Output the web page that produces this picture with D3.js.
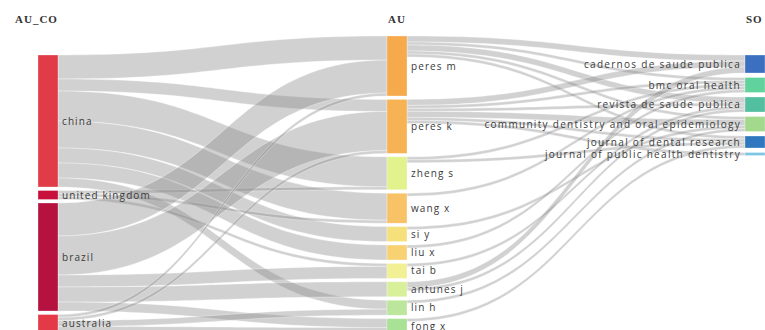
<!DOCTYPE html>
<html><head><meta charset="utf-8">
<script src="https://cdn.jsdelivr.net/npm/d3@7/dist/d3.min.js"></script>
<style>
html,body{margin:0;padding:0;background:#fff;}
svg{display:block;}
</style></head>
<body>
<svg id="chart" width="765" height="330"></svg>
<script>
// ---- data ----
const columns = ["AU_CO", "AU", "SO"];
const countries = ["china", "united kingdom", "brazil", "australia"];
const authors = ["peres m", "peres k", "zheng s", "wang x", "si y", "liu x", "tai b", "antunes j", "lin h", "fong x"];
const sources = ["cadernos de saude publica", "bmc oral health", "revista de saude publica",
  "community dentistry and oral epidemiology", "journal of dental research", "journal of public health dentistry"];
// country -> author flows
const countryAuthorLinks = [
  ["china", "peres m", 8], ["china", "peres k", 4], ["china", "zheng s", 10], ["china", "wang x", 9],
  ["china", "si y", 5], ["china", "liu x", 5], ["china", "lin h", 3],
  ["united kingdom", "zheng s", 1], ["united kingdom", "wang x", 1], ["united kingdom", "tai b", 1],
  ["brazil", "peres m", 11], ["brazil", "peres k", 13], ["brazil", "tai b", 4], ["brazil", "antunes j", 5], ["brazil", "fong x", 3],
  ["australia", "peres m", 1], ["australia", "peres k", 1], ["australia", "lin h", 2], ["australia", "fong x", 2]
];
// author -> source flows
const authorSourceLinks = [
  ["peres m", "cadernos de saude publica", 2], ["peres m", "bmc oral health", 1], ["peres m", "revista de saude publica", 2],
  ["peres m", "community dentistry and oral epidemiology", 1], ["peres m", "journal of dental research", 1],
  ["peres k", "cadernos de saude publica", 2], ["peres k", "bmc oral health", 1], ["peres k", "revista de saude publica", 1],
  ["peres k", "community dentistry and oral epidemiology", 2], ["peres k", "journal of dental research", 1],
  ["peres k", "journal of public health dentistry", 1],
  ["zheng s", "bmc oral health", 1], ["zheng s", "journal of dental research", 1],
  ["wang x", "bmc oral health", 1],
  ["si y", "community dentistry and oral epidemiology", 1],
  ["liu x", "bmc oral health", 1],
  ["tai b", "revista de saude publica", 1],
  ["antunes j", "cadernos de saude publica", 2], ["antunes j", "revista de saude publica", 1],
  ["lin h", "community dentistry and oral epidemiology", 1],
  ["fong x", "journal of dental research", 1]
];

// ---- styles ----
const countryColors = ["#e03c48", "#c8103c", "#b5123f", "#e43a48"];
const authorColors = ["#f6aa4c", "#f7b253", "#e2f28c", "#f8c266", "#f6e07c", "#f8d272", "#f1f094", "#d8f09a", "#bce69c", "#a9e196"];
const sourceColors = ["#3b6fc0", "#5fd39b", "#52bfa0", "#a2d98c", "#2f78c0", "#7fc5e6"];

const svg = d3.select("#chart");
const colX = d3.scaleLinear().domain([0, 1, 2]).range([38, 387, 745]);
const colTop = [55, 36, 55];
const colPad = [3.5, 3.4, 4.5];
const nodeW = 20;
const vScale = d3.scaleLinear().domain([0, 1]).range([0, 3]);

const groups = [countries, authors, sources];
const groupColors = [countryColors, authorColors, sourceColors];
const nodes = new Map();
groups.forEach((g, ci) => g.forEach((name, i) => {
  nodes.set(ci + ":" + name, {name, col: ci, idx: i, color: groupColors[ci][i], inV: 0, outV: 0, ins: [], outs: []});
}));
const links = [];
countryAuthorLinks.forEach(([s, t, v]) => links.push({s: nodes.get("0:" + s), t: nodes.get("1:" + t), v}));
authorSourceLinks.forEach(([s, t, v]) => links.push({s: nodes.get("1:" + s), t: nodes.get("2:" + t), v}));
links.forEach(l => { l.s.outV += l.v; l.t.inV += l.v; l.s.outs.push(l); l.t.ins.push(l); });

groups.forEach((g, ci) => {
  let y = colTop[ci];
  g.forEach(name => {
    const n = nodes.get(ci + ":" + name);
    n.value = Math.max(n.inV, n.outV);
    n.x0 = colX(ci); n.x1 = n.x0 + nodeW;
    n.y0 = y; n.y1 = y + vScale(n.value);
    y = n.y1 + colPad[ci];
  });
});
nodes.forEach(n => {
  n.outs.sort((a, b) => a.t.idx - b.t.idx);
  n.ins.sort((a, b) => a.s.idx - b.s.idx);
  let y = n.y0;
  n.outs.forEach(l => { l.sy = y; y += vScale(l.v); });
  y = n.y0;
  n.ins.forEach(l => { l.ty = y; y += vScale(l.v); });
});

function linkPath(l) {
  const x0 = l.s.x1, x1 = l.t.x0, w = vScale(l.v), xm = (x0 + x1) / 2;
  const p = d3.path();
  p.moveTo(x0, l.sy);
  p.bezierCurveTo(xm, l.sy, xm, l.ty, x1, l.ty);
  p.lineTo(x1, l.ty + w);
  p.bezierCurveTo(xm, l.ty + w, xm, l.sy + w, x0, l.sy + w);
  p.closePath();
  return p.toString();
}

svg.append("g").selectAll("path").data(links).join("path")
  .attr("d", linkPath)
  .attr("fill", "rgba(140,140,140,0.4)")
  .attr("stroke", "rgba(255,255,255,0.55)")
  .attr("stroke-width", 0.6);

const nodeArr = Array.from(nodes.values());
svg.append("g").selectAll("rect").data(nodeArr).join("rect")
  .attr("x", d => d.x0).attr("y", d => d.y0)
  .attr("width", nodeW).attr("height", d => d.y1 - d.y0)
  .attr("fill", d => d.color)
  .attr("stroke", "rgba(255,255,255,0.6)").attr("stroke-width", 0.5);

svg.append("g").selectAll("text").data(nodeArr).join("text")
  .attr("x", d => d.col === 2 ? d.x0 - 4 : d.x1 + 4)
  .attr("y", d => (d.y0 + d.y1) / 2)
  .attr("dy", "0.35em")
  .attr("text-anchor", d => d.col === 2 ? "end" : "start")
  .attr("font-family", "'Open Sans', 'DejaVu Sans', sans-serif")
  .attr("font-size", 10)
  .attr("letter-spacing", d => d.col === 2 ? 1.3 : 1.1)
  .attr("fill", "#3a3a3a")
  .text(d => d.name);

svg.append("g").selectAll("text").data(columns).join("text")
  .attr("x", (d, i) => i === 0 ? 15 : colX(i) + 1)
  .attr("y", 23)
  .attr("font-family", "'Liberation Serif', serif")
  .attr("font-weight", "bold")
  .attr("font-size", 11)
  .attr("letter-spacing", 1)
  .attr("fill", "#333")
  .text(d => d);
</script>
</body></html>
